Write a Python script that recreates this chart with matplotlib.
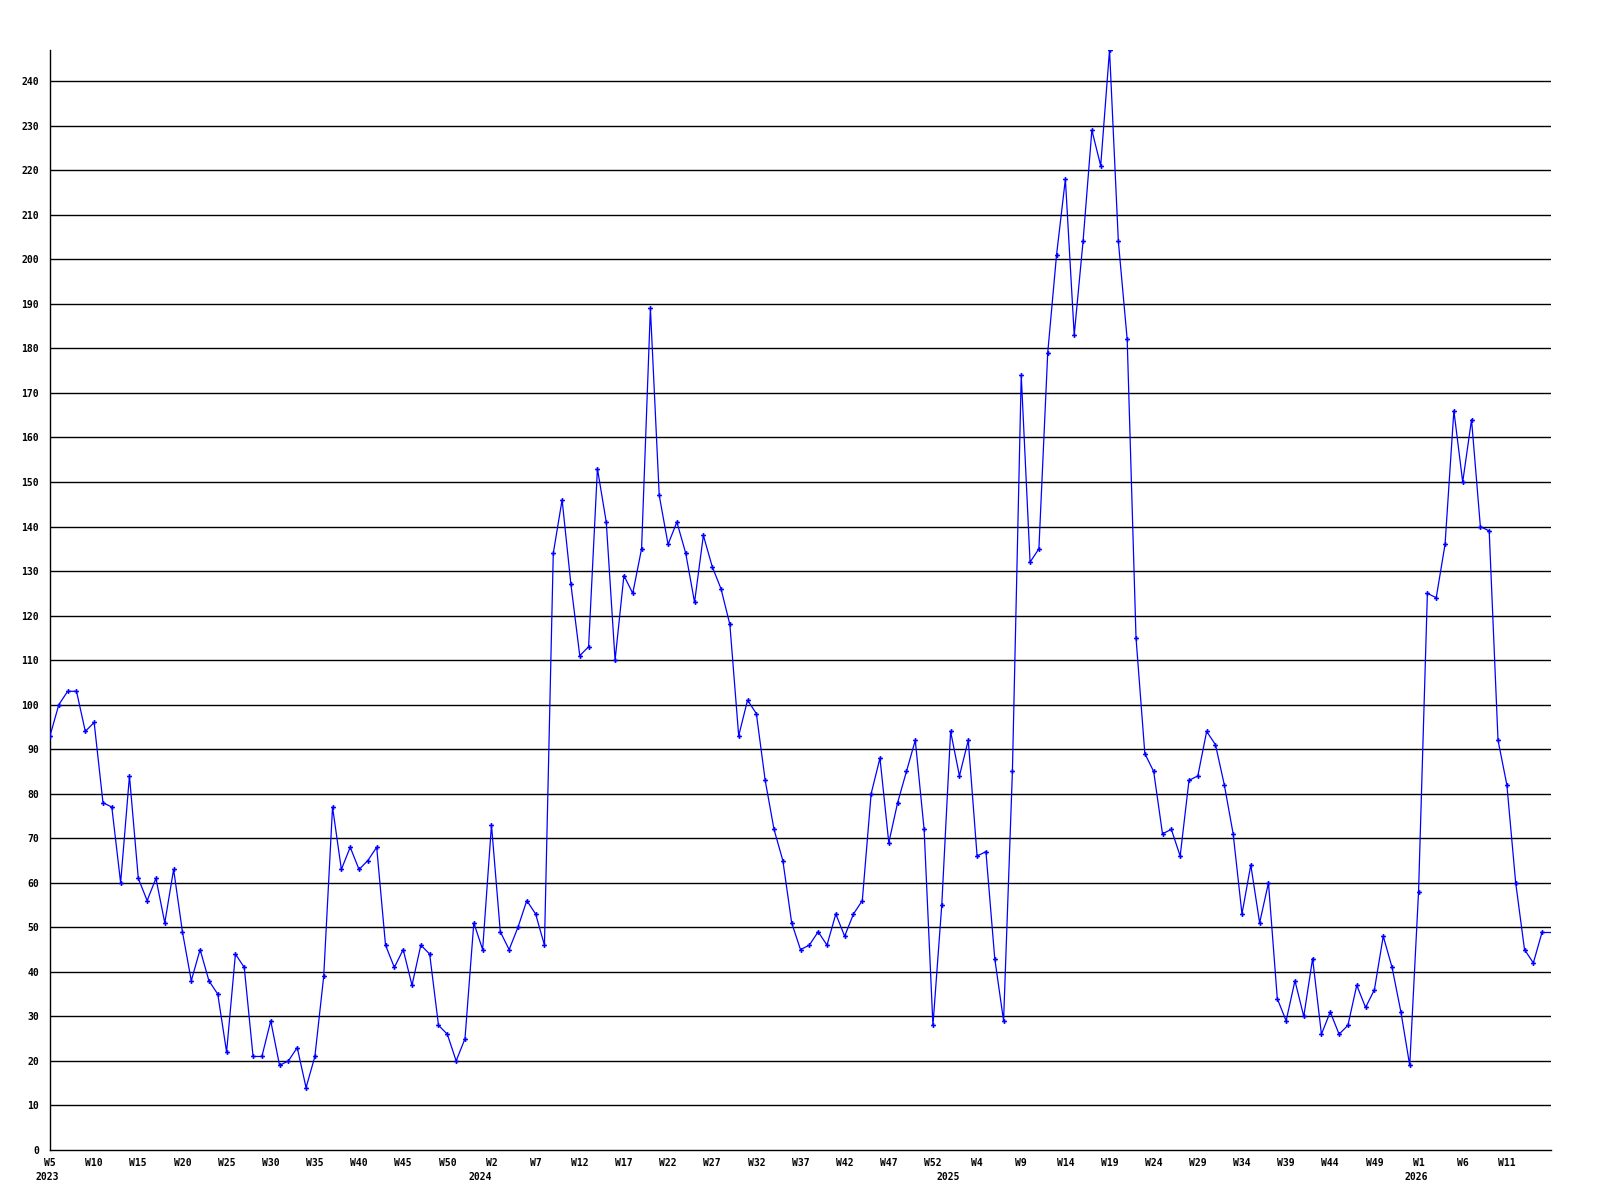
import matplotlib
matplotlib.use('Agg')
from matplotlib import pyplot as plt

# weekly counts, starting 2023 W5 (weeks numbered 1..53 each year)
start_year = 2023
start_week = 5
weeks_per_year = 53

values = [93, 100, 103, 103, 94, 96, 78, 77, 60, 84, 61, 56, 61, 51, 63, 49, 38, 45, 38, 35, 22, 44,
          41, 21, 21, 29, 19, 20, 23, 14, 21, 39, 77, 63, 68, 63, 65, 68, 46, 41, 45, 37, 46, 44,
          28, 26, 20, 25, 51, 45, 73, 49, 45, 50, 56, 53, 46, 134, 146, 127, 111, 113, 153, 141, 110,
          129, 125, 135, 189, 147, 136, 141, 134, 123, 138, 131, 126, 118, 93, 101, 98, 83, 72, 65,
          51, 45, 46, 49, 46, 53, 48, 53, 56, 80, 88, 69, 78, 85, 92, 72, 28, 55, 94, 84, 92, 66, 67, 43,
          29, 85, 174, 132, 135, 179, 201, 218, 183, 204, 229, 221, 247, 204, 182, 115, 89, 85, 71, 72, 66,
          83, 84, 94, 91, 82, 71, 53, 64, 51, 60, 34, 29, 38, 30, 43, 26, 31, 26, 28, 37, 32, 36,
          48, 41, 31, 19, 58, 125, 124, 136, 166, 150, 164, 140, 139, 92, 82, 60, 45, 42, 49, 49]

yticks = list(range(0, 250, 10))

# build (year, week) for every point
cats = []
y, w = start_year, start_week
for _ in values:
    cats.append((y, w))
    w += 1
    if w > weeks_per_year:
        y, w = y + 1, 1

x = list(range(len(values)))
# last point is the running week: no marker and no tick label
tick_pos = x[:-1][::5]
tick_labels = ['W{}'.format(cats[i][1]) for i in tick_pos]
year_pos = [i for i in x if i == 0 or cats[i][0] != cats[i - 1][0]]
year_labels = [str(cats[i][0]) for i in year_pos]

font = dict(family='DejaVu Sans Mono', weight='bold', size=7)

fig = plt.figure(figsize=(16, 12), dpi=100)
ax = fig.add_axes([50 / 1600, 50 / 1200, 1501 / 1600, 1100 / 1200])

for v in yticks[1:]:
    ax.axhline(v, color='black', linewidth=1.0, zorder=1)

ax.plot(x[:-1], values[:-1], color='#0000ff', linewidth=0.9, marker='P',
        markersize=3.5, markeredgewidth=0, zorder=3)
ax.plot(x[-2:], values[-2:], color='#0000ff', linewidth=0.9, zorder=3)

ax.set_xlim(0, len(values) - 1)
ax.set_ylim(0, max(values))
ax.set_yticks(yticks)
ax.set_yticklabels([str(v) for v in yticks], fontdict=font)
ax.set_xticks(tick_pos)
ax.set_xticklabels(tick_labels, fontdict=font)
ax.tick_params(axis='both', length=0)
ax.tick_params(axis='y', pad=8)
ax.tick_params(axis='x', pad=6)

for p, lab in zip(year_pos, year_labels):
    ax.annotate(lab, xy=(p, 0), xycoords=('data', 'axes fraction'),
                xytext=(-2, -19.5), textcoords='offset points',
                ha='center', va='center', **font)

for side in ['top', 'right']:
    ax.spines[side].set_visible(False)
for side in ['left', 'bottom']:
    ax.spines[side].set_linewidth(1.0)
    ax.spines[side].set_color('black')

fig.savefig('out.png', dpi=100)
plt.close()
